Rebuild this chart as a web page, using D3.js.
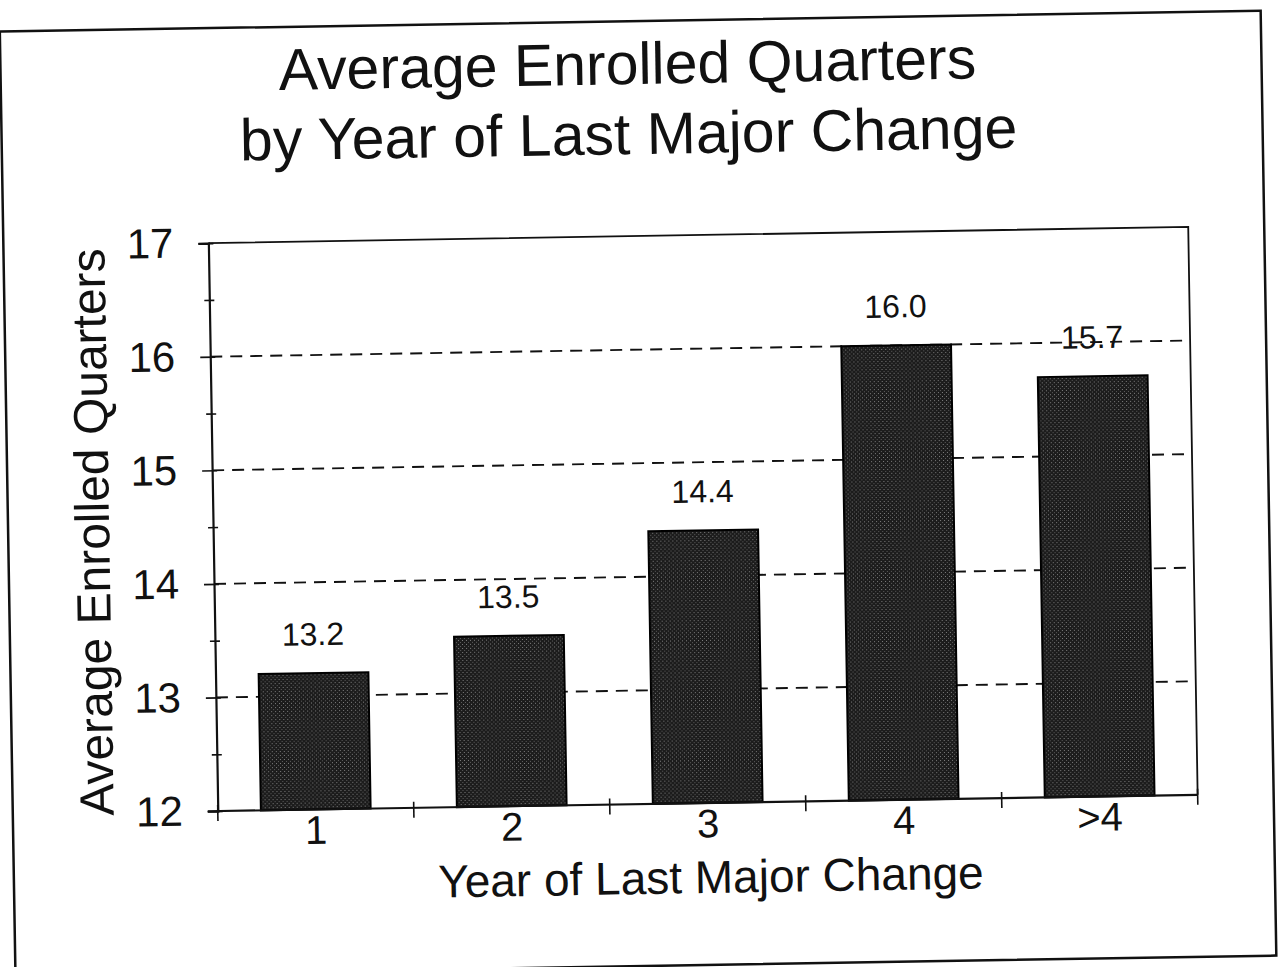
<!DOCTYPE html>
<html>
<head>
<meta charset="utf-8">
<script src="https://cdn.jsdelivr.net/npm/d3@7"></script>
<style>
  html, body { margin: 0; padding: 0; background: #ffffff; }
  svg { display: block; }
  text { font-family: "Liberation Sans", Arial, Helvetica, sans-serif; fill: #111; }
</style>
</head>
<body>
<svg id="chart" width="1278" height="967"></svg>
<script>
// Average enrolled quarters for each year of the last major change
const categories = ["1", "2", "3", "4", ">4"];
const values = [13.2, 13.5, 14.4, 16.0, 15.7];
const valueLabels = ["13.2", "13.5", "14.4", "16.0", "15.7"];
const yTicks = [12, 13, 14, 15, 16, 17];
const yMinorTicks = [12.5, 13.5, 14.5, 15.5, 16.5];
const gridValues = [13, 14, 15, 16];

const titleLines = ["Average Enrolled Quarters", "by Year of Last Major Change"];
const xTitle = "Year of Last Major Change";
const yTitle = "Average Enrolled Quarters";

const plot = { left: 213, right: 1193, top: 235, bottom: 803 };

const svg = d3.select("#chart");

// stippled dark fill used by the bars
const defs = svg.append("defs");
const pat = defs.append("pattern")
  .attr("id", "stipple")
  .attr("patternUnits", "userSpaceOnUse")
  .attr("width", 4).attr("height", 4);
pat.append("rect").attr("width", 4).attr("height", 4).attr("fill", "#1c1c1c");
pat.append("rect").attr("x", 0).attr("y", 0).attr("width", 1).attr("height", 1).attr("fill", "#808080");
pat.append("rect").attr("x", 2).attr("y", 2).attr("width", 1).attr("height", 1).attr("fill", "#5e5e5e");

// the sheet sits slightly askew on the page
const g = svg.append("g").attr("transform", "rotate(-0.95, 703, 519)");

// outer frame
g.append("rect")
  .attr("x", 8).attr("y", 20)
  .attr("width", 1261).attr("height", 945)
  .attr("fill", "none").attr("stroke", "#111").attr("stroke-width", 2.5);

// title: each line is laid out word by word, centred as a whole
const titleSize = 59;
const titleG = g.append("g");
const measure = titleG.append("text").attr("font-size", titleSize).attr("visibility", "hidden");
const widthOf = s => { measure.text(s); return measure.node().getComputedTextLength(); };
titleLines.forEach((line, li) => {
  const total = widthOf(line);
  const words = line.split(" ");
  let start = 0;
  words.forEach((w, wi) => {
    const prefix = words.slice(0, wi + 1).join(" ");
    const xStart = widthOf(prefix) - widthOf(w);
    titleG.append("text")
      .attr("x", 635 - total / 2 + xStart)
      .attr("y", 83 + li * 70)
      .attr("font-size", titleSize)
      .text(w);
  });
});
measure.remove();

const x = d3.scaleBand()
  .domain(categories)
  .range([plot.left, plot.right])
  .paddingInner(0.44)
  .paddingOuter(0.22);

const y = d3.scaleLinear()
  .domain([12, 17])
  .range([plot.bottom, plot.top]);

// dashed gridlines
g.append("g").selectAll("line")
  .data(gridValues)
  .join("line")
  .attr("x1", plot.left).attr("x2", plot.right)
  .attr("y1", d => y(d)).attr("y2", d => y(d))
  .attr("stroke", "#111")
  .attr("stroke-width", 1.9)
  .attr("stroke-dasharray", "12,8");

// plot box: top and right edges
g.append("path")
  .attr("d", `M${plot.left},${plot.top}H${plot.right}V${plot.bottom}`)
  .attr("fill", "none").attr("stroke", "#111").attr("stroke-width", 1.8);

// bars
g.append("g").selectAll("rect")
  .data(values)
  .join("rect")
  .attr("x", (d, i) => x(categories[i]))
  .attr("y", d => y(d))
  .attr("width", x.bandwidth())
  .attr("height", d => y(12) - y(d))
  .attr("fill", "url(#stipple)")
  .attr("stroke", "#000")
  .attr("stroke-width", 2);

// value labels above bars
g.append("g").selectAll("text")
  .data(values)
  .join("text")
  .attr("x", (d, i) => x(categories[i]) + x.bandwidth() / 2)
  .attr("y", d => y(d) - 28)
  .attr("text-anchor", "middle")
  .attr("font-size", 32)
  .text((d, i) => valueLabels[i]);

// y axis with ticks crossing the axis line
const yAxis = g.append("g")
  .attr("transform", `translate(${plot.left},0)`)
  .call(d3.axisLeft(y).tickValues(yTicks).tickSize(10).tickPadding(25).tickFormat(d3.format("d")));
yAxis.select(".domain").attr("stroke", "#111").attr("stroke-width", 2.2);
yAxis.selectAll(".tick line").attr("x1", 5).attr("stroke", "#111").attr("stroke-width", 1.6);
yAxis.selectAll(".tick text")
  .attr("font-size", 42)
  .attr("font-family", "Liberation Sans, Arial, sans-serif")
  .attr("fill", "#111");

const yMinor = g.append("g")
  .attr("transform", `translate(${plot.left},0)`)
  .call(d3.axisLeft(y).tickValues(yMinorTicks).tickSize(5).tickFormat(""));
yMinor.select(".domain").remove();
yMinor.selectAll(".tick line").attr("x1", 5).attr("stroke", "#111").attr("stroke-width", 1.6);

// x axis: category labels centred under bars
const xAxis = g.append("g")
  .attr("transform", `translate(0,${plot.bottom})`)
  .call(d3.axisBottom(x).tickSize(0).tickPadding(6));
xAxis.select(".domain").remove();
xAxis.selectAll(".tick text")
  .attr("font-size", 40)
  .attr("font-family", "Liberation Sans, Arial, sans-serif")
  .attr("fill", "#111");

// baseline and tick marks between categories
g.append("line")
  .attr("x1", plot.left - 10).attr("x2", plot.right)
  .attr("y1", plot.bottom).attr("y2", plot.bottom)
  .attr("stroke", "#111").attr("stroke-width", 2.2);

const step = x.step();
const boundaries = [plot.left].concat(categories.map(c => x(c) + x.bandwidth() + (step - x.bandwidth()) / 2));
g.append("g").selectAll("line")
  .data(boundaries)
  .join("line")
  .attr("x1", d => d).attr("x2", d => d)
  .attr("y1", plot.bottom - 6).attr("y2", plot.bottom + 10)
  .attr("stroke", "#111").attr("stroke-width", 1.6);

// axis titles
g.append("text")
  .attr("x", 705)
  .attr("y", 893)
  .attr("text-anchor", "middle")
  .attr("font-size", 46)
  .text(xTitle);

g.append("text")
  .attr("transform", "translate(109,522) rotate(-90)")
  .attr("text-anchor", "middle")
  .attr("font-size", 48)
  .text(yTitle);
</script>
</body>
</html>
